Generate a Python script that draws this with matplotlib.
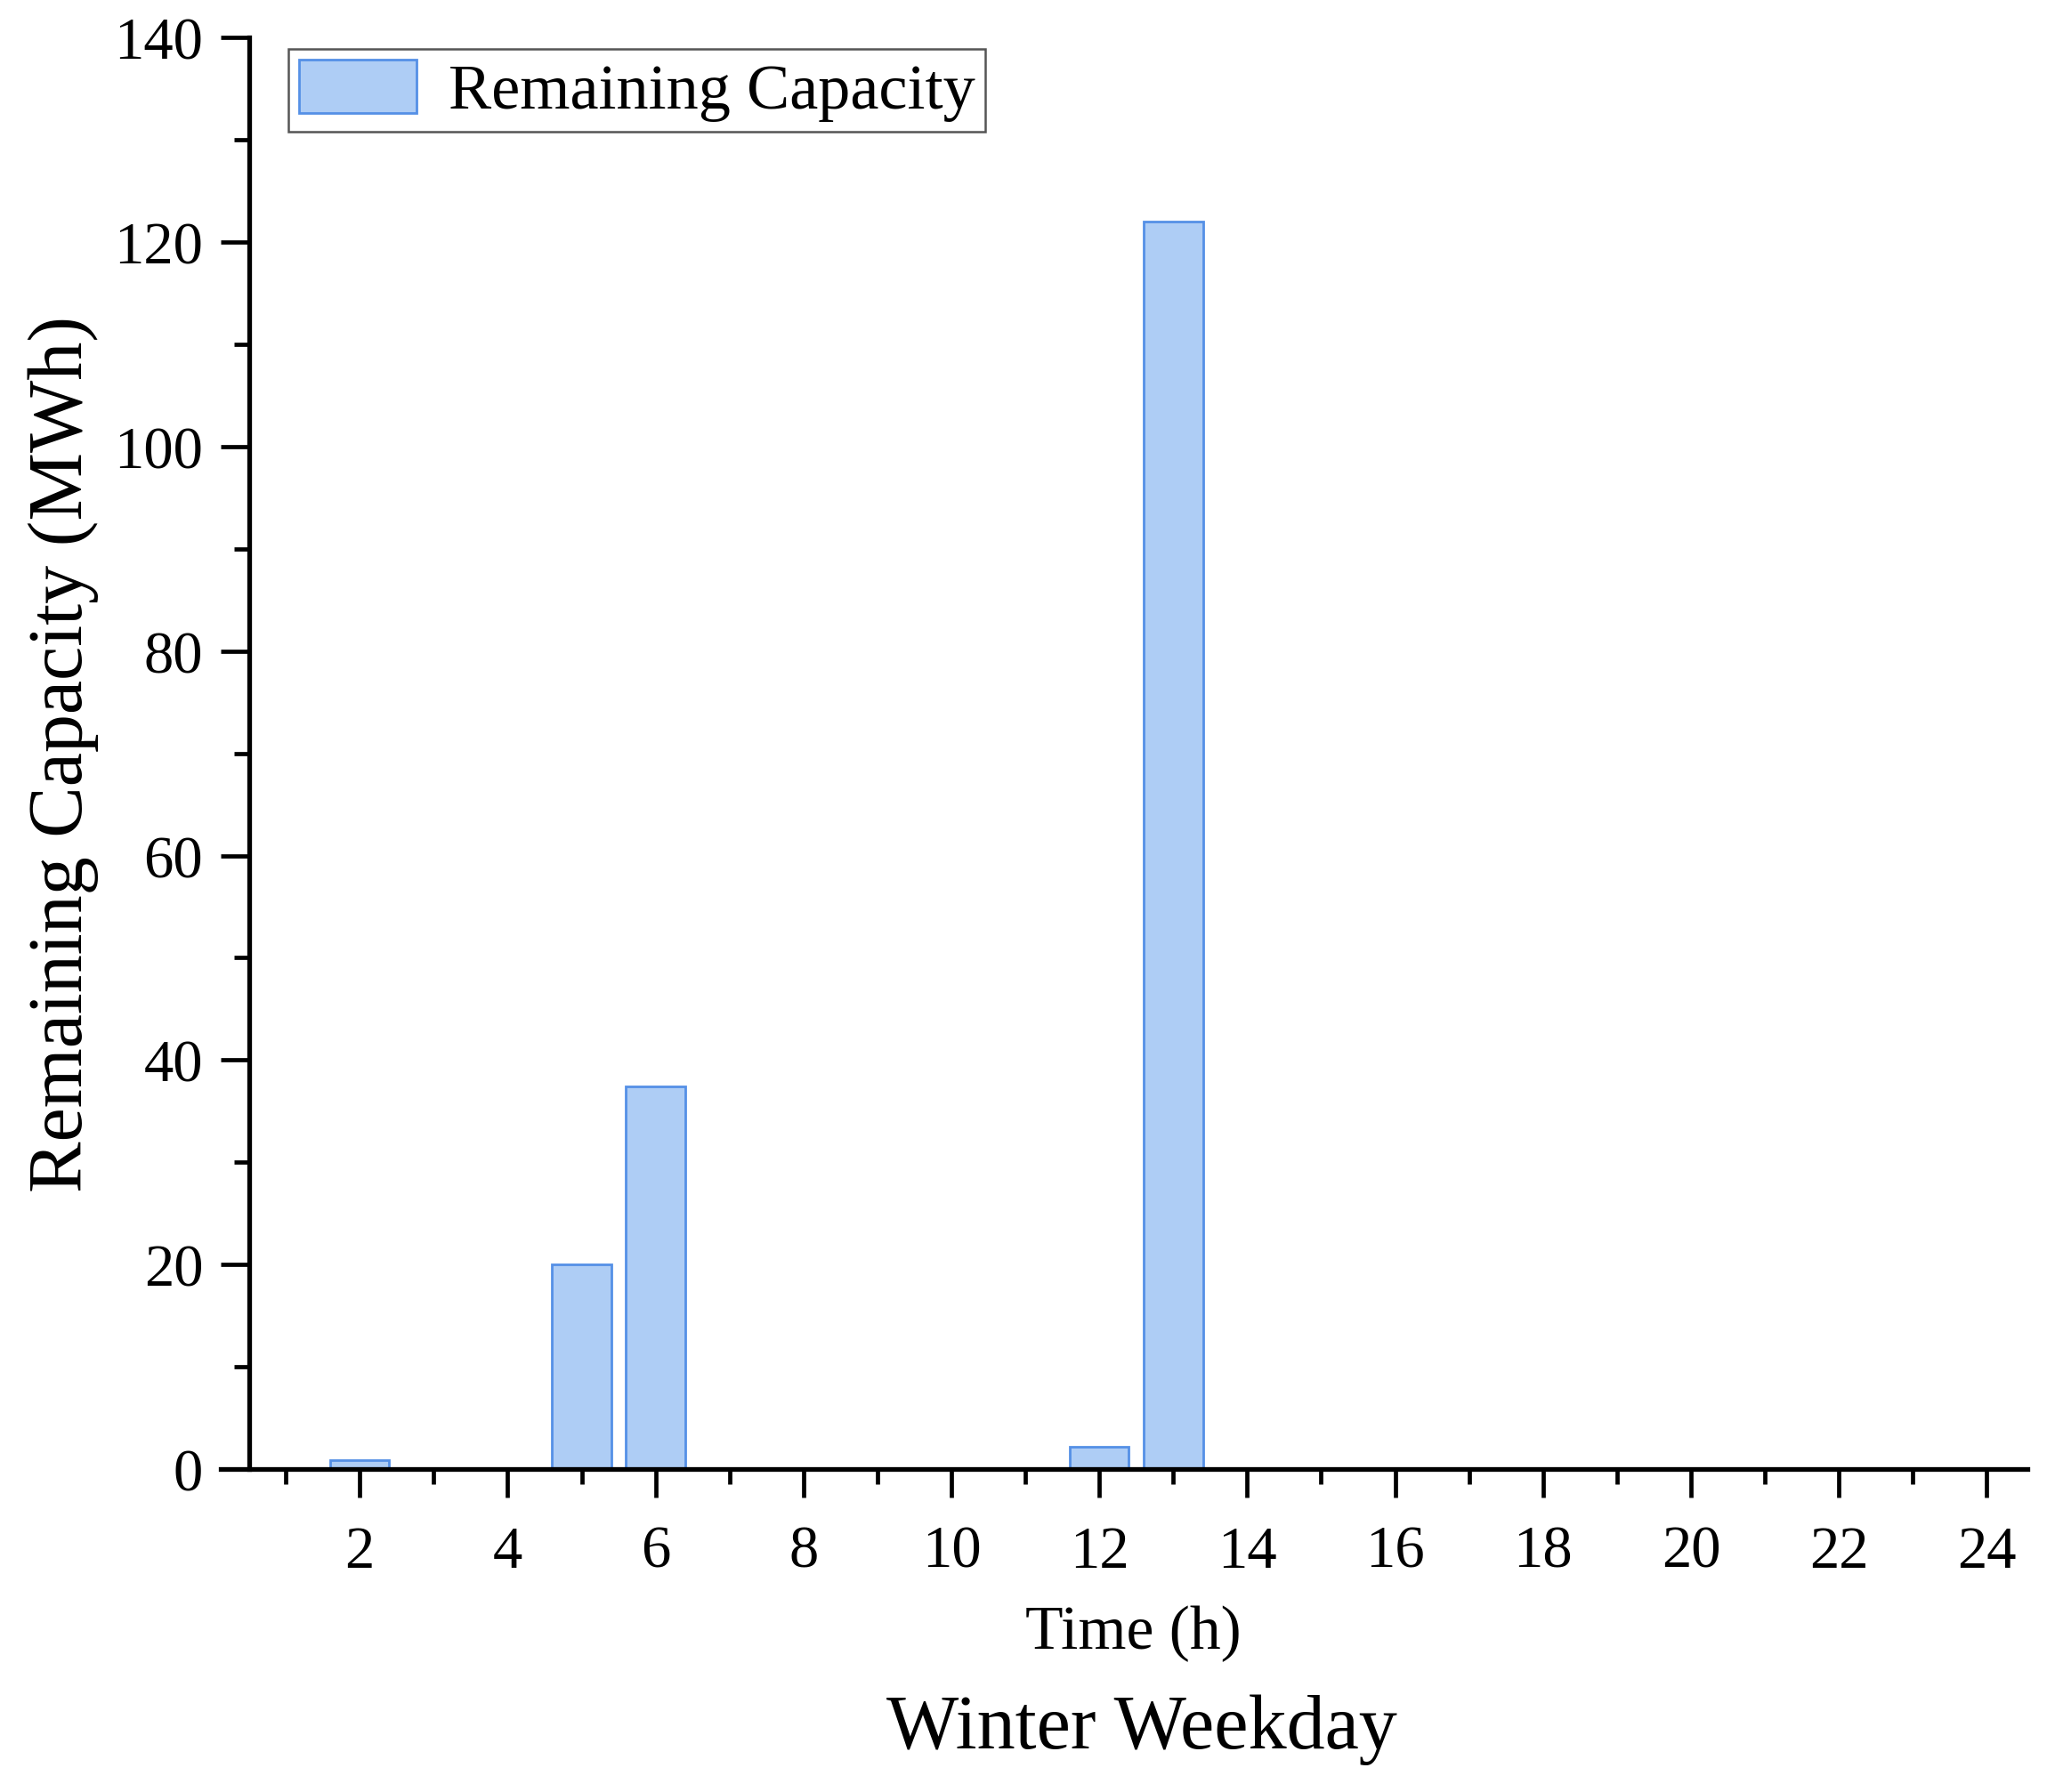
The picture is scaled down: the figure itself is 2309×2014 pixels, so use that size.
import matplotlib
matplotlib.use("Agg")
import matplotlib.pyplot as plt
from matplotlib.ticker import MultipleLocator

# ---------------------------------------------------------------------------
# Data
# ---------------------------------------------------------------------------
HOURS = list(range(1, 25))
REMAINING = [0.0, 0.9, 0.0, 0.0, 20.0, 37.4, 0.0, 0.0, 0.0, 0.0, 0.0, 2.2,
             122.0, 0.0, 0.0, 0.0, 0.0, 0.0, 0.0, 0.0, 0.0, 0.0, 0.0, 0.0]
X_MAJOR = list(range(2, 25, 2))
Y_MAJOR = list(range(0, 141, 20))

FACE = "#aecdf5"
EDGE = "#5590e6"
FONT = "Liberation Serif"

plt.rcParams["font.family"] = [FONT, "DejaVu Serif"]

fig = plt.figure(figsize=(23.09, 20.15), dpi=100)
ax = fig.add_axes([0.1074, 0.1801, 0.8792, 0.7985])

ax.bar(HOURS, REMAINING, width=0.8, color=FACE, edgecolor=EDGE,
       linewidth=2.0, label="Remaining Capacity", zorder=1)

ax.set_xlim(0.12, 24.55)
ax.set_ylim(0, 140)

# ---- axes styling ---------------------------------------------------------
for side in ("top", "right"):
    ax.spines[side].set_visible(False)
ax.spines["left"].set_position(("data", 0.5))
ax.spines["left"].set_bounds(0, 140)
for side in ("left", "bottom"):
    ax.spines[side].set_linewidth(3.8)
    ax.spines[side].set_zorder(3)

ax.set_xticks(X_MAJOR)
ax.xaxis.set_minor_locator(MultipleLocator(1))
ax.set_yticks(Y_MAJOR)
ax.yaxis.set_minor_locator(MultipleLocator(10))

ax.tick_params(axis="both", which="major", direction="out", length=23,
               width=3.4, labelsize=48, color="black")
ax.tick_params(axis="both", which="minor", direction="out", length=12,
               width=3.4, color="black")
ax.tick_params(axis="y", which="major", pad=14)
ax.tick_params(axis="x", which="major", pad=22)

ax.set_xlabel("Time (h)", fontsize=50, va="center")
ax.xaxis.set_label_coords(0.505, -0.1144)
ax.set_ylabel("Remaining Capacity (MWh)", fontsize=62, va="center")
ax.yaxis.set_label_coords(-0.0872, 0.5)

fig.text(0.5556, 0.0352, "Winter Weekday", ha="center", va="center",
         fontsize=62)

# ---- legend ---------------------------------------------------------------
leg = ax.legend(loc="upper left", bbox_to_anchor=(0.1403, 0.9722),
                bbox_transform=fig.transFigure, borderaxespad=0,
                fontsize=52, handlelength=1.83, handleheight=0.9,
                handletextpad=0.5, borderpad=0.16, fancybox=False,
                framealpha=1, edgecolor="#555555")
leg.get_frame().set_linewidth(1.8)

fig.savefig("out.png", dpi=100, facecolor="white")
